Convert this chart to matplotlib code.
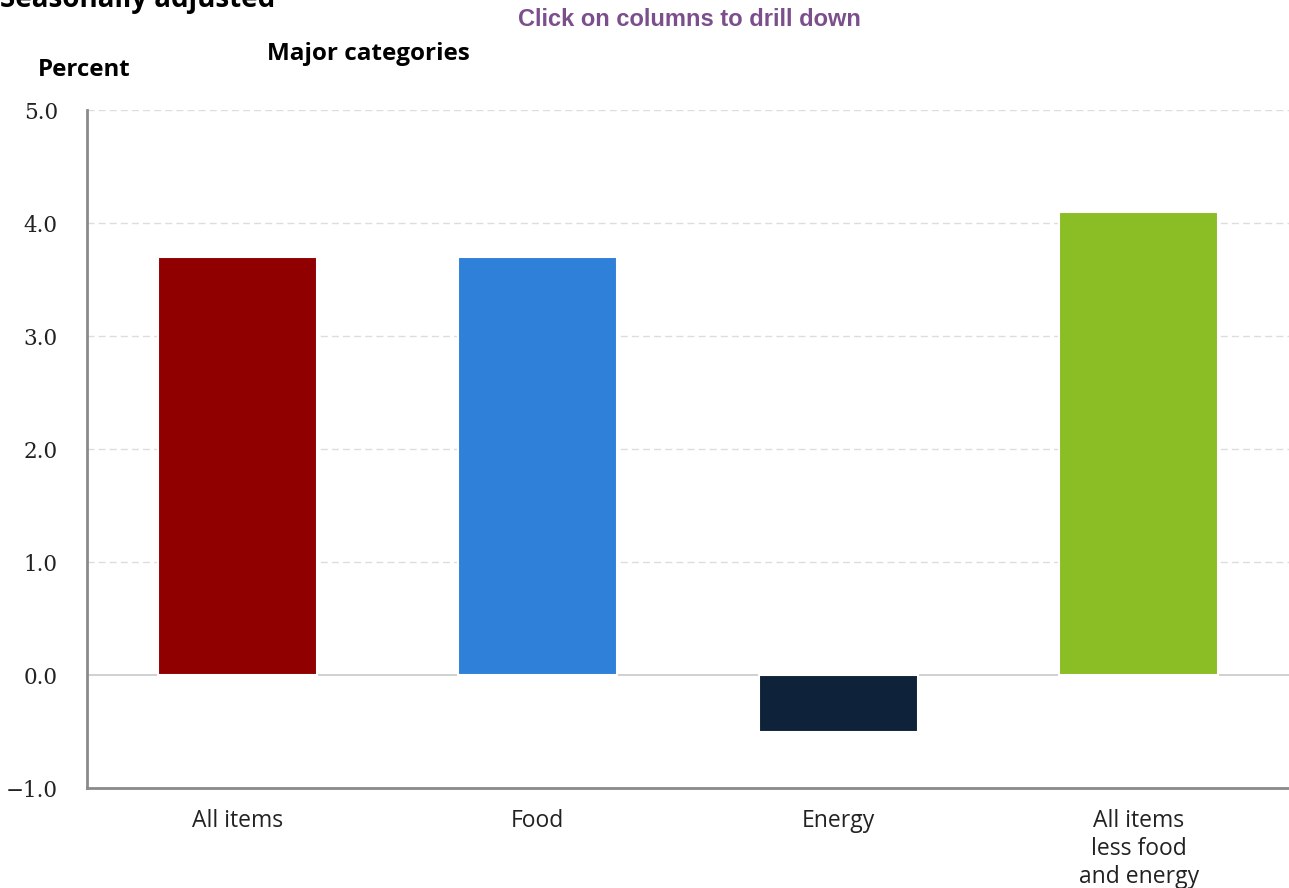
import matplotlib.pyplot as plt

categorias = ["All items", "Food", "Energy", "All items\nless food\nand energy"]
valores = [3.7, 3.7, -0.5, 4.1]
cores = ["#900000", "#2e80d8", "#0e2239", "#8bbd24"]
yticks = [-1.0, 0.0, 1.0, 2.0, 3.0, 4.0, 5.0]

fig = plt.figure(figsize=(12.89, 8.88), dpi=100)
ax = fig.add_axes([0.0675, 0.1126, 0.9325, 0.7635])

# linhas de grade tracejadas e linha do zero
for y in yticks[1:]:
    if y == 0:
        ax.axhline(y, color="#c8c8c8", lw=1.2, zorder=1)
    else:
        ax.axhline(y, color="#dddddd", lw=1, ls=(0, (5, 3)), zorder=1)

x = range(len(categorias))
ax.bar(x, valores, width=0.53, color=cores, edgecolor="white", linewidth=1.5, zorder=2)

ax.set_xlim(-0.5, 3.5)
ax.set_ylim(-1.0, 5.0)
ax.set_yticks(yticks)
ax.set_yticklabels([f"{v:.1f}".replace("-", "\u2212") for v in yticks],
                   fontsize=15.5, family="DejaVu Serif", color="#222222")
ax.set_xticks(list(x))
ax.set_xticklabels(categorias, fontsize=16.5, family="Open Sans", color="#222222",
                   linespacing=1.22, va="top")
ax.tick_params(axis="y", length=0, pad=21)
ax.tick_params(axis="x", length=0, pad=15)

for s in ["top", "right"]:
    ax.spines[s].set_visible(False)
for s in ["left", "bottom"]:
    ax.spines[s].set_color("#8a8a8a")
    ax.spines[s].set_linewidth(2)

fig.text(0.0, 1.0, "Seasonally adjusted", fontsize=20, fontweight="bold",
         family="Open Sans", va="center", ha="left")
fig.text(0.5345, 0.9786, "Click on columns to drill down", fontsize=17,
         fontweight="bold", family="Liberation Sans", color="#7b4f8c",
         ha="center", va="center")
fig.text(0.207, 0.939, "Major categories", fontsize=17.5, fontweight="bold",
         family="Open Sans", ha="left", va="center")
fig.text(0.0295, 0.921, "Percent", fontsize=17.3, fontweight="bold",
         family="Open Sans", ha="left", va="center")

fig.savefig("out.png", dpi=100)
